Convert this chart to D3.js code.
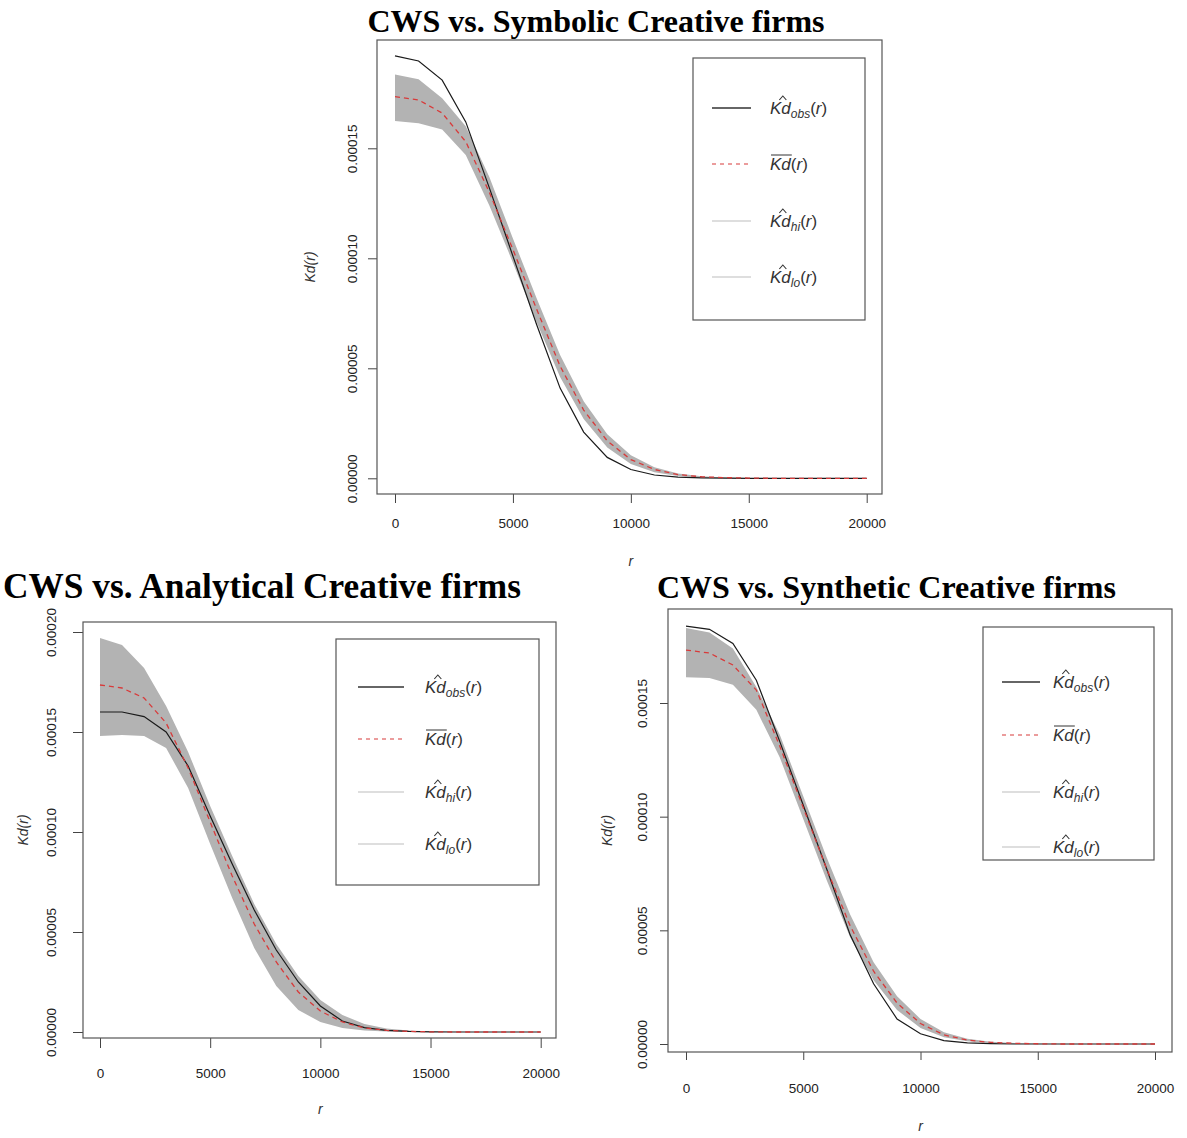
<!DOCTYPE html>
<html>
<head>
<meta charset="utf-8">
<script src="https://cdn.jsdelivr.net/npm/d3@7"></script>
<style>
body { margin: 0; background: #fff; }
svg { display: block; }
.tick text { font-family: "Liberation Sans", Arial, sans-serif; font-size: 13.5px; fill: #222; }
.tick line { stroke: #444; }
.ttl { font-family: "Liberation Serif", "Times New Roman", serif; font-weight: bold; fill: #000; }
.lab { font-family: "Liberation Sans", Arial, sans-serif; font-size: 14px; font-style: italic; fill: #333; }
.lg { font-family: "Liberation Sans", Arial, sans-serif; font-size: 17px; font-style: italic; fill: #333; }
</style>
</head>
<body>
<svg id="chart" width="1187" height="1138"></svg>
<script>
// distance grid r (same for all three plots)
var rValues = [0, 1000, 2000, 3000, 4000, 5000, 6000, 7000, 8000, 9000, 10000,
               11000, 12000, 13000, 14000, 15000, 16000, 17000, 18000, 19000, 20000];

var xTicks = [0, 5000, 10000, 15000, 20000];
var yTicksTop = [0, 0.00005, 0.0001, 0.00015];
var yTicksWide = [0, 0.00005, 0.0001, 0.00015, 0.0002];

// CWS vs. Symbolic
var symObs  = [0.000192, 0.0001897, 0.000181, 0.000162, 0.000132, 0.000101, 0.000070, 0.000041, 0.000021, 0.0000095, 0.000004,
               0.0000015, 0.0000005, 0.0000002, 0.00000005, 0, 0, 0, 0, 0, 0];
var symMean = [0.0001735, 0.000172, 0.000166, 0.000153, 0.000130, 0.000104, 0.000077, 0.000051, 0.000031, 0.000017, 0.0000085,
               0.000004, 0.0000017, 0.0000007, 0.0000003, 0.0000001, 0, 0, 0, 0, 0];
var symHi   = [0.0001836, 0.0001814, 0.0001727, 0.000160, 0.000137, 0.000109, 0.000082, 0.000056, 0.000035, 0.000020, 0.0000105,
               0.000005, 0.0000022, 0.0000009, 0.0000004, 0.00000015, 0.00000005, 0, 0, 0, 0];
var symLo   = [0.0001624, 0.0001614, 0.0001586, 0.000147, 0.000124, 0.000098, 0.000071, 0.000046, 0.000027, 0.000014, 0.0000065,
               0.0000028, 0.0000011, 0.0000004, 0.00000015, 0.00000005, 0, 0, 0, 0, 0];

// CWS vs. Analytical
var anaObs  = [0.000160, 0.000160, 0.0001577, 0.000150, 0.000133, 0.000108, 0.000084, 0.000061, 0.000041, 0.000025, 0.000013,
               0.0000055, 0.0000022, 0.0000008, 0.0000003, 0.0000001, 0, 0, 0, 0, 0];
var anaMean = [0.0001735, 0.000172, 0.000167, 0.0001545, 0.000132, 0.000105, 0.000078, 0.000054, 0.000035, 0.000020, 0.0000105,
               0.000005, 0.000002, 0.0000008, 0.0000003, 0.0000001, 0, 0, 0, 0, 0];
var anaHi   = [0.000197, 0.0001935, 0.000182, 0.000163, 0.000140, 0.000113, 0.000088, 0.000064, 0.000044, 0.000028, 0.000016,
               0.0000085, 0.000004, 0.0000017, 0.0000007, 0.0000003, 0.0000001, 0, 0, 0, 0];
var anaLo   = [0.000148, 0.0001485, 0.000148, 0.000142, 0.000122, 0.000094, 0.000067, 0.000042, 0.000023, 0.000011, 0.000005,
               0.000002, 0.0000007, 0.0000002, 0.00000007, 0, 0, 0, 0, 0, 0];

// CWS vs. Synthetic
var synObs  = [0.0001838, 0.0001824, 0.0001762, 0.000160, 0.000133, 0.000105, 0.000077, 0.000048, 0.0000265, 0.000011, 0.0000045,
               0.0000015, 0.0000005, 0.00000015, 0, 0, 0, 0, 0, 0, 0];
var synMean = [0.0001733, 0.000172, 0.0001667, 0.0001557, 0.000131, 0.000104, 0.000077, 0.000052, 0.000032, 0.000018, 0.000009,
               0.000004, 0.0000017, 0.0000007, 0.0000003, 0.0000001, 0, 0, 0, 0, 0];
var synHi   = [0.000183, 0.000181, 0.000174, 0.000157, 0.000136, 0.000109, 0.000082, 0.000057, 0.000036, 0.000021, 0.000011,
               0.0000052, 0.0000023, 0.000001, 0.0000004, 0.00000015, 0.00000005, 0, 0, 0, 0];
var synLo   = [0.0001613, 0.000161, 0.000158, 0.000147, 0.000126, 0.000099, 0.000072, 0.000047, 0.000028, 0.000015, 0.000007,
               0.000003, 0.0000012, 0.0000004, 0.00000015, 0.00000005, 0, 0, 0, 0, 0];

var svg = d3.select("#chart");

// layout of each plot (pixel geometry only)
var panels = [
  {title: "CWS vs. Symbolic Creative firms", tx: 596, ty: 32, anchor: "middle", tsize: 32,
   obs: symObs, mean: symMean, hi: symHi, lo: symLo, yTicks: yTicksTop,
   box: [377, 40, 882, 494], xr: [395, 866.7], yr: [478.3, 148.3], yTop: 0.00015,
   tick: 9, xPad: 15, yGap: 20, kdX: 310, rY: 566,
   legend: {box: [693, 58, 865, 320], rows: [108, 164, 221, 277], line: [712, 751], tx: 770}},
  {title: "CWS vs. Analytical Creative firms", tx: 3, ty: 598, anchor: "start", tsize: 35.3,
   obs: anaObs, mean: anaMean, hi: anaHi, lo: anaLo, yTicks: yTicksWide,
   box: [83, 622, 556, 1038], xr: [100, 540.7], yr: [1032, 632], yTop: 0.0002,
   tick: 10, xPad: 20, yGap: 27, kdX: 23, rY: 1114,
   legend: {box: [336, 639, 539, 885], rows: [687, 739, 792, 844], line: [358, 404], tx: 425}},
  {title: "CWS vs. Synthetic Creative firms", tx: 657, ty: 598, anchor: "start", tsize: 32,
   obs: synObs, mean: synMean, hi: synHi, lo: synLo, yTicks: yTicksTop,
   box: [668, 609, 1172, 1052], xr: [686, 1155], yr: [1044, 703], yTop: 0.00015,
   tick: 8, xPad: 23, yGap: 21, kdX: 607, rY: 1131,
   legend: {box: [983, 627, 1154, 860], rows: [682, 735, 792, 847], line: [1002, 1040], tx: 1053}}
];

panels.forEach(drawPanel);

function drawPanel(p) {
  var g = svg.append("g");
  var bx0 = p.box[0], by0 = p.box[1], bx1 = p.box[2], by1 = p.box[3];

  var x = d3.scaleLinear().domain([0, 20000]).range(p.xr);
  var y = d3.scaleLinear().domain([0, p.yTop]).range(p.yr);

  var rows = rValues.map(function (r, i) {
    return {r: r, obs: p.obs[i], mean: p.mean[i], hi: p.hi[i], lo: p.lo[i]};
  });

  // title
  svg.append("text").attr("class", "ttl")
    .attr("x", p.tx).attr("y", p.ty)
    .attr("text-anchor", p.anchor)
    .style("font-size", p.tsize + "px")
    .text(p.title);

  // envelope (hi / lo)
  g.append("path").datum(rows)
    .attr("fill", "#b3b3b3")
    .attr("d", d3.area()
      .x(function (d) { return x(d.r); })
      .y0(function (d) { return y(d.lo); })
      .y1(function (d) { return y(d.hi); }));

  // observed
  g.append("path").datum(rows)
    .attr("fill", "none").attr("stroke", "#1a1a1a").attr("stroke-width", 1.2)
    .attr("d", d3.line()
      .x(function (d) { return x(d.r); })
      .y(function (d) { return y(d.obs); }));

  // mean of simulations
  g.append("path").datum(rows)
    .attr("fill", "none").attr("stroke", "#d83a3a").attr("stroke-width", 1.3)
    .style("stroke-dasharray", "5, 4")
    .attr("d", d3.line()
      .x(function (d) { return x(d.r); })
      .y(function (d) { return y(d.mean); }));

  // X axis
  var xa = g.append("g")
    .attr("transform", "translate(0," + by1 + ")")
    .call(d3.axisBottom(x).tickValues(xTicks).tickSize(p.tick).tickPadding(p.xPad).tickFormat(d3.format("d")));
  xa.select(".domain").remove();

  // Y axis, labels parallel to the axis like R does
  var ya = g.append("g")
    .attr("transform", "translate(" + bx0 + ",0)")
    .call(d3.axisLeft(y).tickValues(p.yTicks).tickSize(p.tick).tickFormat(d3.format(".5f")));
  ya.select(".domain").remove();
  ya.selectAll(".tick text")
    .attr("transform", "rotate(-90)")
    .attr("x", 0).attr("y", -p.yGap).attr("dy", 0)
    .style("text-anchor", "middle");

  // box
  g.append("rect")
    .attr("x", bx0).attr("y", by0)
    .attr("width", bx1 - bx0).attr("height", by1 - by0)
    .attr("fill", "none").attr("stroke", "#555").attr("stroke-width", 1.2);

  // axis titles
  var cy = (by0 + by1) / 2;
  g.append("text").attr("class", "lab")
    .attr("transform", "translate(" + (p.kdX + 5) + "," + cy + ") rotate(-90)")
    .attr("text-anchor", "middle")
    .text("Kd(r)");
  g.append("text").attr("class", "lab")
    .attr("x", (p.xr[0] + p.xr[1]) / 2).attr("y", p.rY)
    .attr("text-anchor", "middle")
    .text("r");

  drawLegend(g, p.legend);
}

function drawLegend(g, L) {
  g.append("rect")
    .attr("x", L.box[0]).attr("y", L.box[1])
    .attr("width", L.box[2] - L.box[0]).attr("height", L.box[3] - L.box[1])
    .attr("fill", "#fff").attr("stroke", "#555").attr("stroke-width", 1.2);

  var styles = [
    {stroke: "#333", dash: null, w: 1.3, kind: "hat", sub: "obs"},
    {stroke: "#d83a3a", dash: "4, 4", w: 1.2, kind: "bar", sub: null},
    {stroke: "#bdbdbd", dash: null, w: 1, kind: "hat", sub: "hi"},
    {stroke: "#bdbdbd", dash: null, w: 1, kind: "hat", sub: "lo"}
  ];

  styles.forEach(function (s, i) {
    var yy = L.rows[i];
    g.append("line")
      .attr("x1", L.line[0]).attr("x2", L.line[1])
      .attr("y1", yy).attr("y2", yy)
      .attr("stroke", s.stroke).attr("stroke-width", s.w)
      .style("stroke-dasharray", s.dash);

    var base = yy + 6;
    var t = g.append("text").attr("class", "lg").attr("x", L.tx).attr("y", base);
    t.append("tspan").text("Kd");
    if (s.sub) {
      t.append("tspan").attr("dy", 4).style("font-size", "12px").text(s.sub);
      t.append("tspan").attr("dy", -4).style("font-style", "normal").text("(");
    } else {
      t.append("tspan").style("font-style", "normal").text("(");
    }
    t.append("tspan").text("r");
    t.append("tspan").style("font-style", "normal").text(")");

    var n = t.node();
    var kStart = n.getStartPositionOfChar(0).x;
    var dStart = n.getStartPositionOfChar(1).x;
    var dEnd = n.getEndPositionOfChar(1).x;
    if (s.kind === "hat") {
      // hat accent drawn as a small chevron
      var hx = dStart + 1.5, hy = base - 18;
      g.append("path")
        .attr("d", "M" + (hx - 3.5) + "," + (hy + 4) + "L" + hx + "," + hy + "L" + (hx + 3.5) + "," + (hy + 4))
        .attr("fill", "none").attr("stroke", "#333").attr("stroke-width", 1.1);
    } else {
      g.append("line")
        .attr("x1", kStart + 1).attr("x2", dEnd + 1)
        .attr("y1", base - 15).attr("y2", base - 15)
        .attr("stroke", "#333").attr("stroke-width", 1);
    }
  });
}
</script>
</body>
</html>
